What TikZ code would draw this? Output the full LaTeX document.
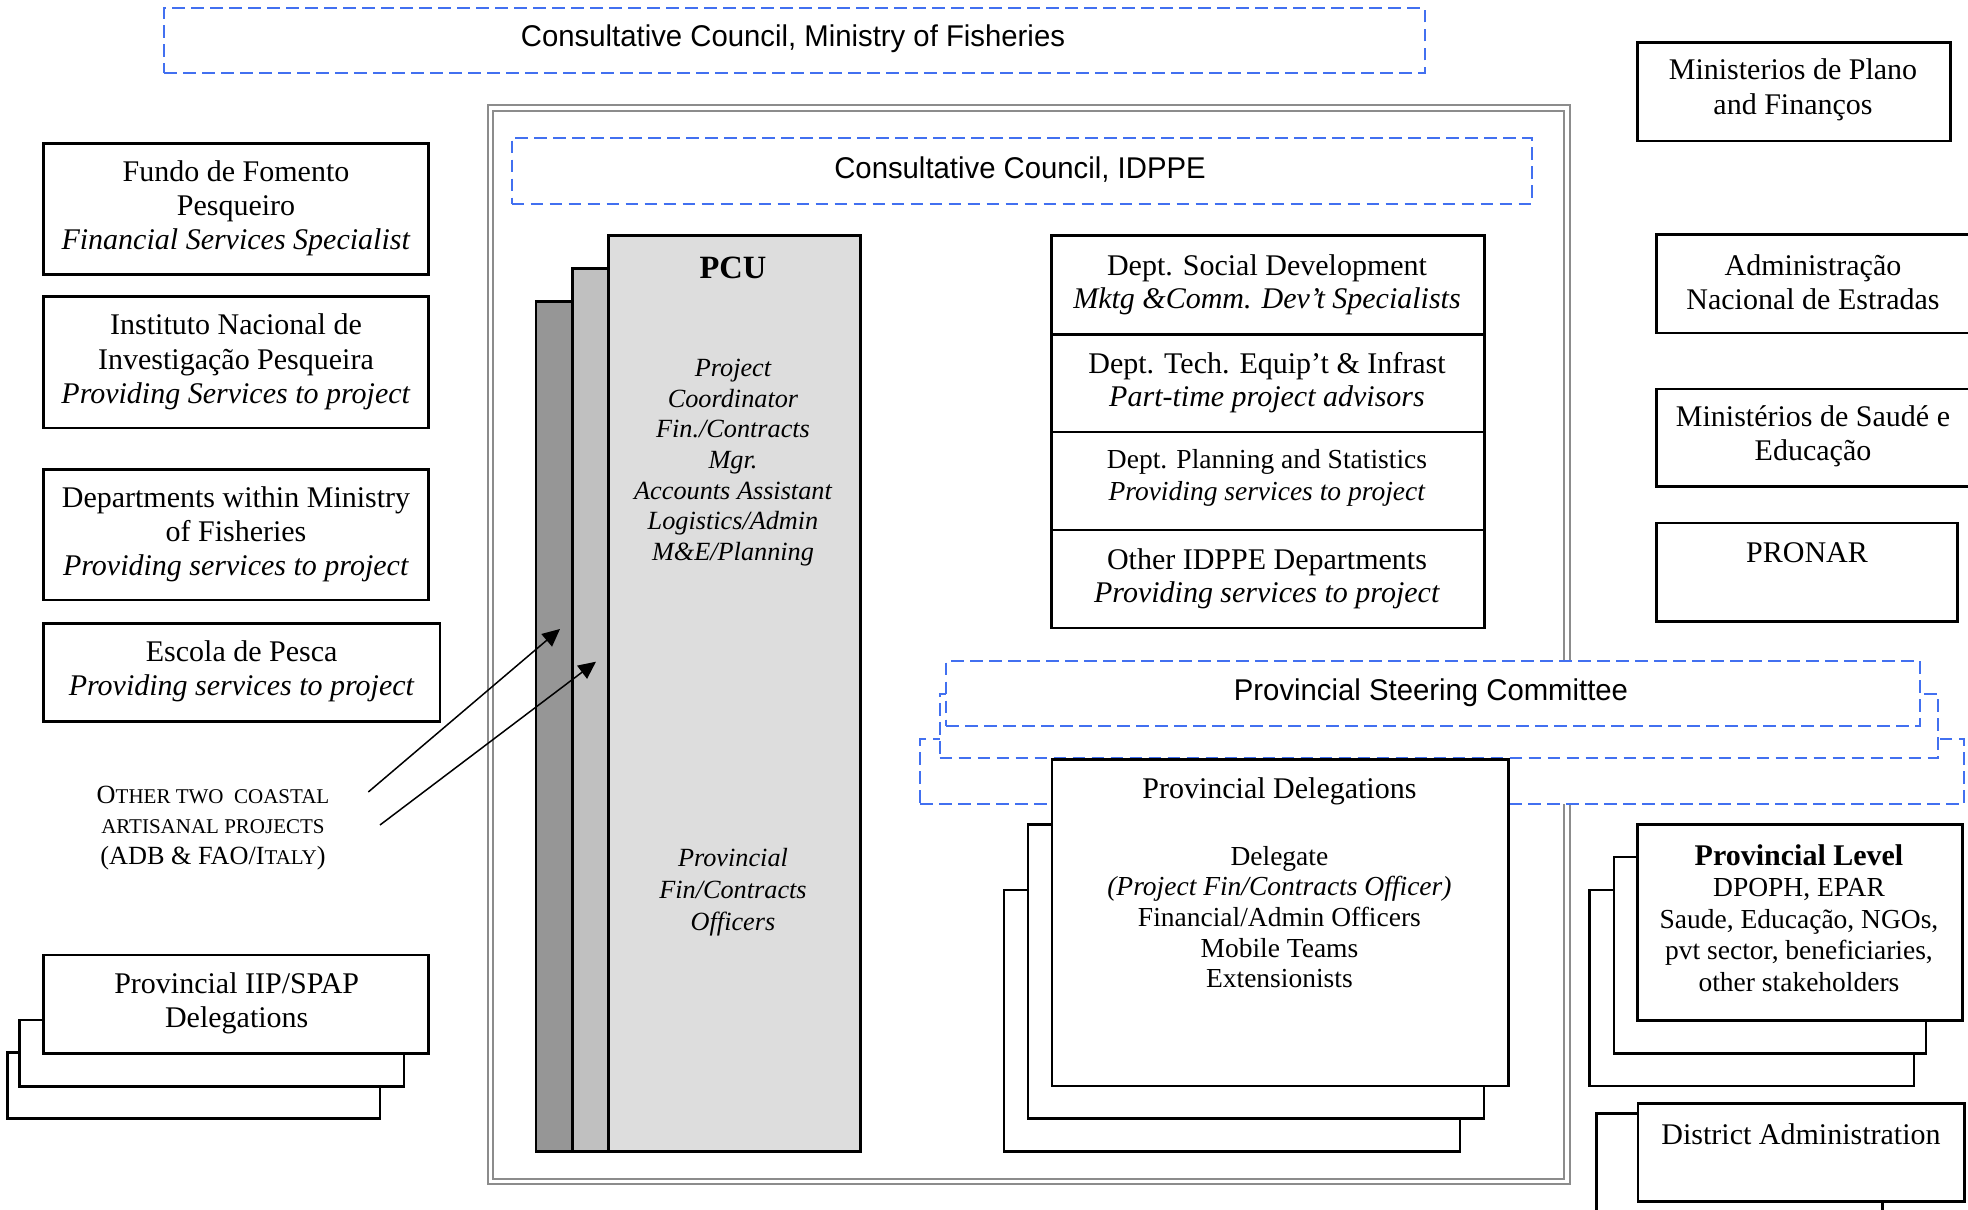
\documentclass[tikz,border=0pt]{standalone}
\usepackage{fontspec}
\setmainfont{Liberation Serif}
\newfontfamily\arialf{Liberation Sans}[FakeStretch=0.977]
\usetikzlibrary{arrows.meta,fit}
\definecolor{dblue}{RGB}{66,112,240}
\definecolor{framegray}{RGB}{140,140,140}
\definecolor{pcudark}{RGB}{150,150,150}
\definecolor{pcumid}{RGB}{192,192,192}
\definecolor{pculight}{RGB}{221,221,221}
\newcommand\smcap[1]{{\fontsize{8.4}{12.2}\selectfont #1}}
\begin{document}
\begin{tikzpicture}[x=0.4pt,y=-0.4pt,
  bx/.style={draw, line width=1pt, fill=white, inner sep=0pt},
  dbox/.style={draw=dblue, line width=0.8pt, dash pattern=on 5pt off 2.6pt, fill=white, inner sep=0pt},
  pcubox/.style={draw, line width=1pt, inner sep=0pt},
  frame/.style={draw=framegray, line width=0.8pt, inner sep=0pt},
  txt/.style={inner sep=0pt, align=center, yshift=-1pt, font=\fontsize{12}{13.7}\selectfont},
  stxt/.style={inner sep=0pt, align=center, yshift=-1pt, font=\arialf\fontsize{12}{14}\selectfont},
  arr/.style={line width=0.6pt, -{Triangle[length=7pt,width=6.5pt]}}
]
\useasboundingbox (0,0) rectangle (1968,1210);
\clip (0,0) rectangle (1968,1210);

% top council
\node[dbox, fit={(164,8) (1424.6,72.8)}] (ccmf) {};
\node[stxt] (ccmftext) at (793,36.4) {Consultative Council, Ministry of Fisheries};

% IDPPE frame
\node[frame, fit={(487.5,105) (1569.5,1184)}] (frameout) {};
\node[frame, fit={(493,110.7) (1564,1178.5)}] (framein) {};
\node[dbox, fit={(511.6,138) (1532,203.6)}] (ccidppe) {};
\node[stxt] (ccidppetext) at (1020,166.8) {Consultative Council, IDPPE};

% left column
\node[bx, fit={(43.3,143.3) (428.6,274.7)}] (fundo) {};
\node[txt] (fundotext) at (236,206) {Fundo de Fomento\\Pesqueiro\\\textit{Financial Services Specialist}};
\node[bx, fit={(43.3,296.7) (428.6,428)}] (inip) {};
\node[txt] (iniptext) at (236,359.5) {Instituto Nacional de\\Investigação Pesqueira\\\textit{Providing Services to project}};
\node[bx, fit={(43.3,469.4) (428.6,600)}] (dmf) {};
\node[txt] (dmftext) at (236,532) {Departments within Ministry\\of Fisheries\\\textit{Providing services to project}};
\node[bx, fit={(43.3,623.3) (440,721.4)}] (escola) {};
\node[txt] (escolatext) at (241.7,669) {Escola de Pesca\\\textit{Providing services to project}};

\node[txt, font=\fontsize{10.5}{12.2}\selectfont] (other) at (213,825.5) {O\smcap{THER TWO\ \ COASTAL}\\\smcap{ARTISANAL PROJECTS}\\(ADB \& FAO/I\smcap{TALY})};

\node[bx, fit={(7.3,1052.5) (380,1118.7)}] (iip3) {};
\node[bx, fit={(19.3,1020.2) (404,1086.4)}] (iip2) {};
\node[bx, fit={(43.3,954.9) (428.3,1053.3)}] (iip) {};
\node[txt] (iiptext) at (236.7,1000.8) {Provincial IIP/SPAP\\Delegations};

% PCU
\node[pcubox, fill=pcudark, fit={(536,301.5) (860.5,1151.5)}] (pcu3) {};
\node[pcubox, fill=pcumid, fit={(572.3,268.5) (860.5,1151.5)}] (pcu2) {};
\node[pcubox, fill=pculight, fit={(608.5,235.7) (860.5,1151.5)}] (pcu) {};
\node[txt, font=\bfseries\fontsize{13}{15}\selectfont] (pcutitle) at (733,265) {PCU};
\node[txt, font=\itshape\fontsize{10.5}{12.25}\selectfont] (pcustaff) at (733,460) {Project\\Coordinator\\Fin./Contracts\\Mgr.\\Accounts Assistant\\Logistics/Admin\\M\&E/Planning};
\node[txt, font=\itshape\fontsize{10.5}{12.8}\selectfont] (pcuprov) at (733,890) {Provincial\\Fin/Contracts\\Officers};

% arrows
\coordinate (a1s) at (368.3,792);
\coordinate (a1e) at (560,629);
\coordinate (a2s) at (380,825);
\coordinate (a2e) at (596,661.7);
\draw[arr] (a1s) -- (a1e);
\draw[arr] (a2s) -- (a2e);

% departments
\node[bx, fit={(1051.7,235.7) (1484.6,334.3)}] (dsd) {};
\node[txt, font=\fontsize{12}{13.4}\selectfont] (dsdtext) at (1267,282.4) {Dept. Social Development\\\textit{Mktg \&Comm. Dev’t Specialists}};
\node[bx, fit={(1051.7,334.3) (1484.6,432.1)}] (dte) {};
\node[txt, font=\fontsize{12}{13.4}\selectfont] (dtetext) at (1267,380.1) {Dept. Tech. Equip’t \& Infrast\\\textit{Part-time project advisors}};
\node[bx, fit={(1051.7,432.1) (1484.6,530)}] (dps) {};
\node[txt, font=\fontsize{11}{12.8}\selectfont] (dpstext) at (1267,475) {Dept. Planning and Statistics\\\textit{Providing services to project}};
\node[bx, fit={(1051.7,530) (1484.6,628.2)}] (oid) {};
\node[txt, font=\fontsize{12}{13.4}\selectfont] (oidtext) at (1267,576.1) {Other IDPPE Departments\\\textit{Providing services to project}};

% right column
\node[bx, fit={(1637.3,42.7) (1950.7,141)}] (mpf) {};
\node[txt, font=\fontsize{12}{13.9}\selectfont] (mpftext) at (1793,87.5) {Ministerios de Plano\\and Finanços};
\node[bx, fit={(1656.7,234.5) (1969.5,333)}] (ane) {};
\node[txt, font=\fontsize{12}{13.6}\selectfont] (anetext) at (1813,280) {Administração\\Nacional de Estradas};
\node[bx, fit={(1656.7,389) (1969.5,486.5)}] (mse) {};
\node[txt, font=\fontsize{12}{13.6}\selectfont] (msetext) at (1813,433.7) {Ministérios de Saudé e\\Educação};
\node[bx, fit={(1656.7,522.9) (1957.7,621.6)}] (pronarbox) {};
\node[txt] (pronar) at (1807,550) {PRONAR};

% provincial steering committee
\node[dbox, fit={(920.4,738.9) (1964,804.4)}] (psc3) {};
\node[dbox, fit={(939.5,693.8) (1938,758.2)}] (psc2) {};
\node[dbox, fit={(946.3,661.1) (1919.8,726.5)}] (psc) {};
\node[stxt] (psctext) at (1431,689.8) {Provincial Steering Committee};

% provincial delegations
\node[bx, fit={(1004.2,889.8) (1460,1151.6)}] (pd3) {};
\node[bx, fit={(1028,824.4) (1483.8,1118.5)}] (pd2) {};
\node[bx, fit={(1051.9,759.3) (1508.3,1085.8)}] (pd) {};
\node[txt] (pdtitle) at (1279.4,789) {Provincial Delegations};
\node[txt, font=\fontsize{11}{12.25}\selectfont] (pdstaff) at (1279.4,914.7) {Delegate\\\textit{(Project Fin/Contracts Officer)}\\Financial/Admin Officers\\Mobile Teams\\Extensionists};

% provincial level
\node[bx, fit={(1589.5,889.8) (1914.2,1085.9)}] (pl3) {};
\node[bx, fit={(1613.9,857) (1925.9,1053.5)}] (pl2) {};
\node[bx, fit={(1637.7,824.7) (1962.7,1020.7)}] (pl) {};
\node[txt, font=\fontsize{11}{12.6}\selectfont] (pltext) at (1799,915.5) {{\bfseries\fontsize{12}{12.6}\selectfont Provincial Level}\\DPOPH, EPAR\\Saude, Educação, NGOs,\\pvt sector, beneficiaries,\\other stakeholders};

% district administration
\node[bx, fit={(1596.7,1113.3) (1882.7,1240)}] (dist2) {};
\node[bx, fit={(1638,1103.5) (1964.5,1201.7)}] (dist) {};
\node[txt] (disttext) at (1801,1131.5) {District Administration};
\end{tikzpicture}
\end{document}
